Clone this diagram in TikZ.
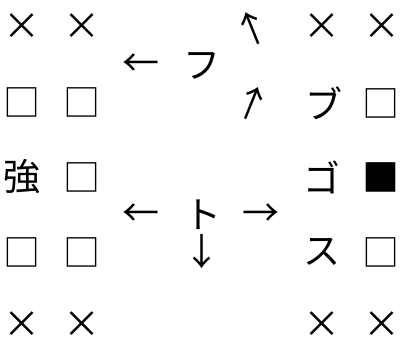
\documentclass[tikz,border=0pt]{standalone}
\usepackage{fontspec}
\setmainfont{Noto Sans CJK JP}
\usetikzlibrary{positioning}

\tikzset{cell/.style={inner sep=0pt, font=\fontsize{37}{37}\selectfont}}

\begin{document}
\begin{tikzpicture}[x=1pt, y=-1pt, every node/.style={cell}]
    \useasboundingbox (0,0) rectangle (403,341);

    % Left block
    \node (a1) at (22,27) {×};
    \node (a2) at (82,27) {×};
    \node (b1) at (22,102) {□};
    \node (b2) at (82,102) {□};
    \node (c1) at (22,177) {強};
    \node (c2) at (82,177) {□};
    \node (d1) at (22,252) {□};
    \node (d2) at (82,252) {□};
    \node (e1) at (22,325) {×};
    \node (e2) at (82,325) {×};

    % Right block
    \node (a3) at (322,27) {×};
    \node (a4) at (382,27) {×};
    \node (b3) at (324,103) {ブ};
    \node (b4) at (381,103) {□};
    \node (c3) at (322,177) {ゴ};
    \node (c4) at (381,177) {■};
    \node (d3) at (322,252) {ス};
    \node (d4) at (381,252) {□};
    \node (e3) at (322,325) {×};
    \node (e4) at (382,325) {×};

    % Middle: upper group
    \node (fu) at (202,66) {フ};
    \node (fuL) at (141,65) {←};
    \node[rotate=22] (upL) at (252,28) {↑};
    \node[rotate=-22] (upR) at (252,103) {↑};

    % Middle: lower group
    \node (to) at (203,215) {ト};
    \node (toL) at (141,215) {←};
    \node (toR) at (261,215) {→};
    \node (toD) at (202,252) {↓};
\end{tikzpicture}
\end{document}
